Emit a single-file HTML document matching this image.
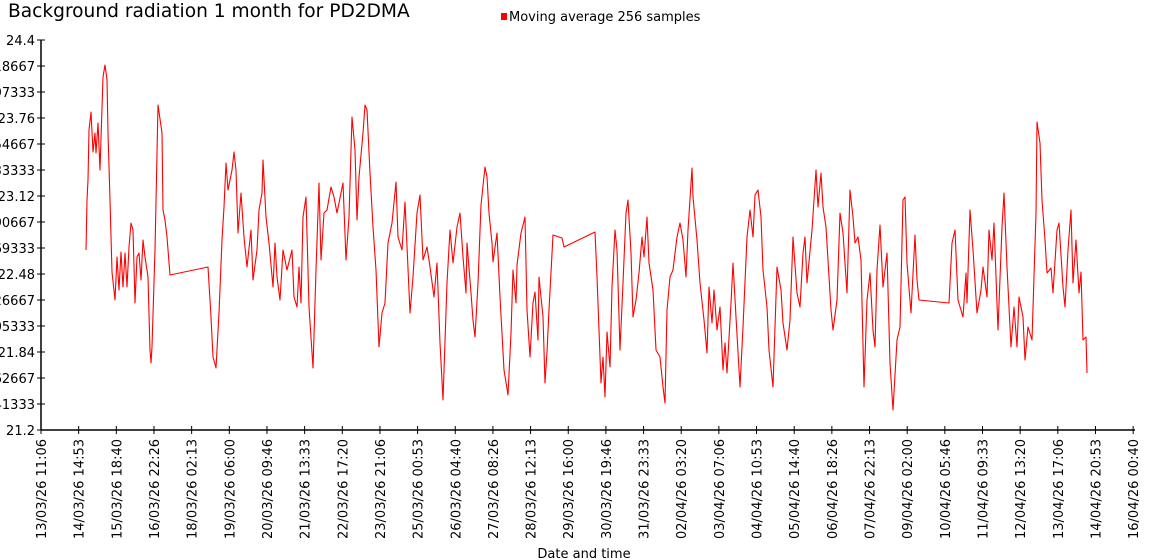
<!DOCTYPE html>
<html><head><meta charset="utf-8"><style>
html,body{margin:0;padding:0;background:#fff;width:1150px;height:560px;overflow:hidden}
svg{display:block}
text{font-family:"DejaVu Sans","Liberation Sans",sans-serif;fill:#000}
</style></head><body>
<svg width="1150" height="560" viewBox="0 0 1150 560" xmlns="http://www.w3.org/2000/svg">
<text x="8" y="17" font-size="18.6">Background radiation 1 month for PD2DMA</text>
<rect x="501" y="13" width="6" height="7" fill="#f00"/>
<text x="509" y="21" font-size="13">Moving average 256 samples</text>
<g stroke="#000" stroke-width="1.5" fill="none">
<line x1="41" y1="40" x2="41" y2="430"/>
<line x1="41" y1="430" x2="1135" y2="430"/>
</g>
<g stroke="#000" stroke-width="1" id="yt"></g>
<g font-size="13" text-anchor="end" id="yl"></g>
<g stroke="#000" stroke-width="1" id="xt"></g>
<g font-size="13" id="xl"></g>
<text x="584" y="558" font-size="13" text-anchor="middle">Date and time</text>
<polyline fill="none" stroke="#f00" stroke-width="1.1" stroke-linejoin="round" points="86,250 87,200 88,180 89,130 91,112 93,152 95,133 96,153 98,123 100,170 103,77 105,65 107,80 108,133 110,200 112,272 115,300 117,257 119,290 121,252 123,287 125,253 127,287 129,247 131,223 133,230 135,303 137,257 139,253 141,280 143,240 145,257 148,277 150,350 151,363 152,347 155,250 158,105 162,133 163,210 165,220 167,237 170,275 208,267 211,317 213,357 216,368 219,313 222,240 224,207 226,163 228,190 232,170 234,152 236,170 238,233 241,193 244,237 247,267 251,230 253,280 257,250 259,210 262,193 263,160 266,217 269,243 273,287 275,243 277,277 280,300 283,250 287,270 292,250 294,297 297,307 299,267 301,303 303,217 306,197 309,307 313,368 316,270 319,183 321,260 324,213 327,210 331,187 334,197 337,213 341,193 343,183 346,260 349,217 352,117 355,150 357,220 359,177 363,133 365,105 367,110 370,173 373,227 376,270 379,347 382,313 385,303 388,243 392,223 396,182 398,237 402,250 405,202 410,313 413,277 417,213 420,195 423,260 427,247 430,267 434,297 437,263 440,343 443,400 447,283 450,230 453,263 457,227 460,213 463,257 466,293 467,243 471,293 473,320 475,337 478,283 481,205 485,167 487,177 489,213 492,243 493,262 497,233 500,297 504,370 508,395 511,333 513,270 516,303 517,265 521,233 525,217 527,310 530,357 533,303 535,292 538,340 539,277 543,317 545,383 547,352 549,310 553,235 562,238 564,247 595,232 597,277 601,383 603,357 605,397 607,332 610,367 612,287 615,230 617,250 620,350 623,283 626,213 628,200 631,253 633,317 636,300 639,273 642,237 644,257 647,217 649,263 653,290 656,350 660,357 663,387 665,403 667,310 670,277 673,270 677,237 680,223 683,240 686,277 688,230 692,168 693,197 697,240 700,283 704,320 707,353 709,287 712,323 714,290 717,330 720,307 723,370 725,343 727,373 731,303 733,263 736,317 740,387 743,327 747,237 750,210 753,237 755,195 758,190 761,217 763,270 767,307 769,350 773,387 777,267 781,290 783,323 787,350 790,320 793,237 797,293 800,307 803,253 805,237 807,283 812,230 814,200 816,170 818,207 821,173 823,207 826,227 831,310 833,330 837,300 840,213 843,233 847,293 850,190 853,217 855,243 858,237 861,260 864,387 867,300 870,273 873,330 875,347 877,270 880,225 883,287 887,253 890,363 893,410 897,340 900,327 903,200 905,197 907,263 911,313 915,235 917,280 919,300 949,303 952,243 955,230 958,300 963,317 966,273 967,303 970,210 973,250 977,313 981,290 983,267 987,297 989,230 992,260 994,223 998,330 1002,227 1004,193 1007,267 1011,347 1014,307 1017,347 1019,297 1023,317 1025,360 1028,327 1032,340 1036,213 1037,122 1040,143 1042,200 1045,240 1047,273 1051,268 1053,293 1057,230 1059,223 1063,287 1065,307 1068,250 1071,210 1073,283 1076,240 1079,293 1081,272 1083,340 1086,337 1087,373"/>
<script>
var ns="http://www.w3.org/2000/svg";
var yv=["24.4","24.18667","23.97333","23.76","23.54667","23.33333","23.12","22.90667","22.69333","22.48","22.26667","22.05333","21.84","21.62667","21.41333","21.2"];
var yt=document.getElementById("yt"),yl=document.getElementById("yl");
yv.forEach(function(v,i){var y=40+i*26;
var l=document.createElementNS(ns,"line");l.setAttribute("x1",37);l.setAttribute("x2",45);l.setAttribute("y1",y);l.setAttribute("y2",y);yt.appendChild(l);
var t=document.createElementNS(ns,"text");t.setAttribute("x",35);t.setAttribute("y",y+5);t.textContent=v;yl.appendChild(t);});
var xv=["13/03/26 11:06","14/03/26 14:53","15/03/26 18:40","16/03/26 22:26","18/03/26 02:13","19/03/26 06:00","20/03/26 09:46","21/03/26 13:33","22/03/26 17:20","23/03/26 21:06","25/03/26 00:53","26/03/26 04:40","27/03/26 08:26","28/03/26 12:13","29/03/26 16:00","30/03/26 19:46","31/03/26 23:33","02/04/26 03:20","03/04/26 07:06","04/04/26 10:53","05/04/26 14:40","06/04/26 18:26","07/04/26 22:13","09/04/26 02:00","10/04/26 05:46","11/04/26 09:33","12/04/26 13:20","13/04/26 17:06","14/04/26 20:53","16/04/26 00:40"];
var xt=document.getElementById("xt"),xl=document.getElementById("xl");
xv.forEach(function(v,i){var x=41+i*37.66;
var l=document.createElementNS(ns,"line");l.setAttribute("x1",x);l.setAttribute("x2",x);l.setAttribute("y1",426);l.setAttribute("y2",434);xt.appendChild(l);
var t=document.createElementNS(ns,"text");t.setAttribute("transform","translate("+(x+5)+",439) rotate(-90)");t.setAttribute("text-anchor","end");t.textContent=v;xl.appendChild(t);});
</script>
</svg>
</body></html>
